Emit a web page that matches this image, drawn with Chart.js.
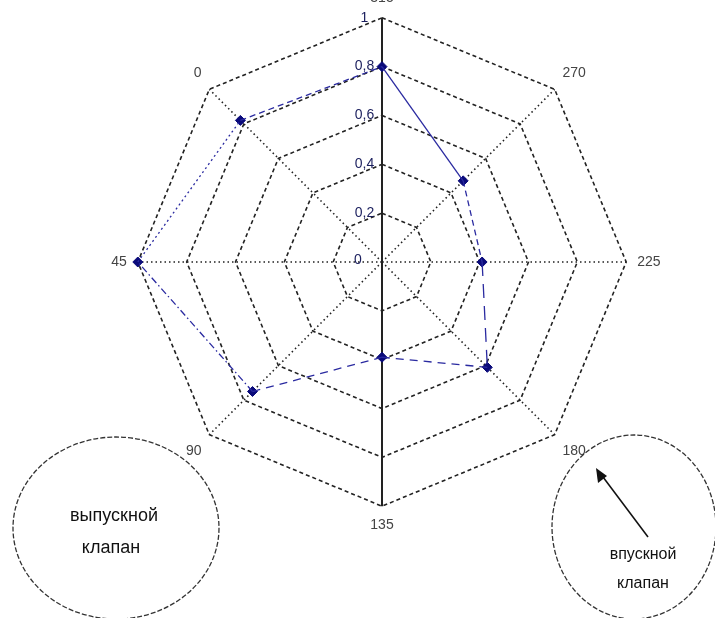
<!DOCTYPE html>
<html>
<head>
<meta charset="utf-8">
<script src="https://cdn.jsdelivr.net/npm/chart.js@4"></script>
<style>
  html, body { margin: 0; padding: 0; background: #fff; overflow: hidden; }
  #wrap { width: 715px; height: 618px; overflow: hidden; position: relative; }
  #radar { position: absolute; left: 0; top: -10px; }
</style>
</head>
<body>
<div id="wrap"><canvas id="radar" width="715" height="628"></canvas></div>
<script>
// angles of the crank, clockwise from the top
var angles = ['315', '270', '225', '180', '135', '90', '45', '0'];
// relative values
var values = [0.8, 0.47, 0.41, 0.61, 0.39, 0.75, 1.0, 0.82];
var tickValues = [0, 0.2, 0.4, 0.6, 0.8, 1];
// dash style of each segment (from point i to point i+1)
var segDash = [[], [6, 4], [14, 8], [8, 6], [8, 6], [7, 3, 1.5, 3], [2, 3], [6, 4]];

var navy = '#2a2aa0';
var font = '"Liberation Sans", Arial, sans-serif';
var shift = 10; // canvas is moved up by this much so the top label is cut like in the picture

// radar charts ignore segment styles, so every edge is its own dataset
var datasets = [];
for (var k = 0; k < values.length; k++) {
    var next = (k + 1) % values.length;
    datasets.push({
        data: values.map(function (v, i) { return (i === k || i === next) ? v : null; }),
        borderColor: navy,
        borderWidth: 1.3,
        borderDash: segDash[k],
        backgroundColor: 'rgba(0,0,0,0)',
        fill: false,
        pointRadius: 0,
        spanGaps: false
    });
}
datasets.push({
    data: values,
    showLine: false,
    fill: false,
    pointStyle: 'rectRot',
    pointRadius: 5,
    pointBackgroundColor: '#0a0a7a',
    pointBorderColor: '#0a0a7a'
});

var decorations = {
    id: 'decorations',
    afterDraw: function (chart) {
        var ctx = chart.ctx;
        var sc = chart.scales.r;
        ctx.save();
        // zero label at the centre
        ctx.fillStyle = '#1b1f5e';
        ctx.font = '14px ' + font;
        ctx.textAlign = 'center';
        ctx.textBaseline = 'middle';
        ctx.fillText('0', sc.xCenter - 24, sc.yCenter - 2);

        ctx.translate(0, shift);
        // valve circles
        ctx.strokeStyle = '#333';
        ctx.lineWidth = 1.3;
        ctx.setLineDash([5, 2]);
        ctx.beginPath();
        ctx.ellipse(116, 528, 103, 91, 0, 0, Math.PI * 2);
        ctx.stroke();
        ctx.beginPath();
        ctx.ellipse(634, 527, 82, 92, 0, 0, Math.PI * 2);
        ctx.stroke();
        ctx.setLineDash([]);

        ctx.fillStyle = '#111';
        ctx.font = '18px ' + font;
        ctx.fillText('выпускной', 114, 516);
        ctx.fillText('клапан', 111, 548);
        ctx.font = '16px ' + font;
        ctx.fillText('впускной', 643, 555);
        ctx.fillText('клапан', 643, 584);

        // arrow
        ctx.strokeStyle = '#111';
        ctx.lineWidth = 1.5;
        ctx.beginPath();
        ctx.moveTo(648, 537);
        ctx.lineTo(600, 473);
        ctx.stroke();
        ctx.fillStyle = '#111';
        ctx.beginPath();
        ctx.moveTo(596, 468);
        ctx.lineTo(598, 483);
        ctx.lineTo(607, 476);
        ctx.closePath();
        ctx.fill();
        ctx.restore();
    }
};

var config = {
    type: 'radar',
    data: {
        labels: angles,
        datasets: datasets
    },
    options: {
        responsive: false,
        animation: false,
        layout: {
            padding: {left: 104, right: 46, top: 0, bottom: 84}
        },
        plugins: {
            legend: {display: false},
            tooltip: {enabled: false}
        },
        scales: {
            r: {
                min: 0,
                max: 1,
                afterBuildTicks: function (axis) {
                    axis.ticks = tickValues.map(function (v) { return {value: v}; });
                },
                grid: {
                    circular: false,
                    color: '#222',
                    lineWidth: 1.6
                },
                border: {
                    dash: [4, 3]
                },
                angleLines: {
                    color: '#222',
                    lineWidth: function (c) { return (c.index === 0 || c.index === 4) ? 2 : 1.6; },
                    borderDash: function (c) { return (c.index === 0 || c.index === 4) ? [] : [1.5, 3]; }
                },
                ticks: {
                    showLabelBackdrop: false,
                    color: '#1b1f5e',
                    font: {size: 14, family: font},
                    callback: function (v) {
                        return String(v).replace('.', ',') + '         ';
                    }
                },
                pointLabels: {
                    color: '#444',
                    padding: 2,
                    font: {size: 14, family: font}
                }
            }
        }
    },
    plugins: [decorations]
};

var ctx = document.getElementById('radar').getContext('2d');
new Chart(ctx, config);
</script>
</body>
</html>
